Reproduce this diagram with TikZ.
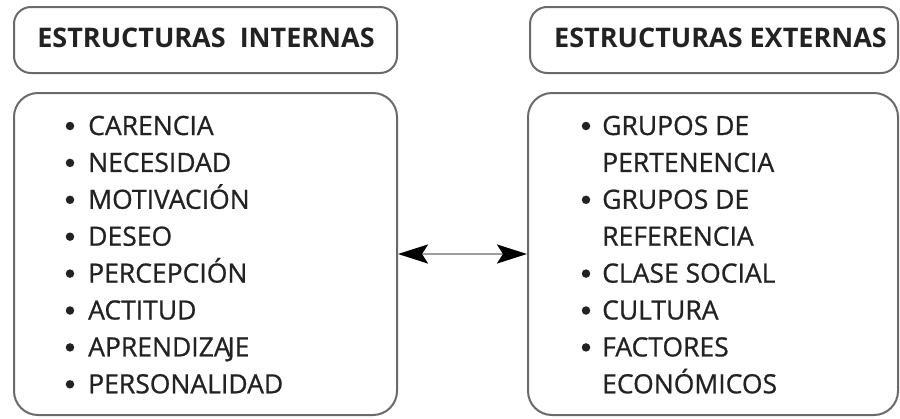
\documentclass[tikz,border=0pt]{standalone}
\usepackage{fontspec}
\setmainfont{Open Sans}
\usetikzlibrary{arrows.meta}
\definecolor{edge}{HTML}{6A6A6A}
\definecolor{ink}{HTML}{222222}
\tikzset{
  boxshape/.style={draw=edge, line width=2pt, rounded corners=24pt, inner sep=0pt},
  headshape/.style={draw=edge, line width=2pt, rounded corners=17pt, inner sep=0pt},
  headtext/.style={font=\fontsize{27}{30}\selectfont\bfseries, text=ink, inner sep=0pt, anchor=base},
  itemtext/.style={font=\fontsize{26.5}{28}\selectfont\addfontfeatures{FakeBold=0.8}, text=ink, inner sep=0pt, anchor=base west},
  dot/.style={circle, fill=ink, inner sep=0pt, minimum size=8.5pt},
  link/.style={draw=black!38, line width=2.5pt, {Stealth[length=30pt,width=19pt,inset=6pt,color=black]}-{Stealth[length=30pt,width=19pt,inset=6pt,color=black]}}
}
\begin{document}
\begin{tikzpicture}[x=1pt,y=-1pt]
\useasboundingbox (0,0) rectangle (900,418);
% headers
\node[headshape, minimum width=383pt, minimum height=66pt] (lhead) at (205.5,40) {};
\node[headshape, minimum width=368pt, minimum height=66pt] (rhead) at (714,40) {};
\node[headtext] (lheadt) at (206,47) {ESTRUCTURAS\ \ INTERNAS};
\node[headtext] (rheadt) at (720.5,47) {ESTRUCTURAS EXTERNAS};
% bodies
\node[boxshape, minimum width=383pt, minimum height=322pt] (lbody) at (205.5,254) {};
\node[boxshape, minimum width=370pt, minimum height=322pt] (rbody) at (713,254) {};
% left list
\foreach \t [count=\i from 0] in {CARENCIA,NECESIDAD,MOTIVACIÓN,DESEO,PERCEPCIÓN,ACTITUD,APRENDIZA\kern-3ptJE,PERSONALIDAD}{
  \node[itemtext] (li\i) at (88,{135+36.9*\i}) {\t};
  \node[dot] (lb\i) at (70,{126+36.9*\i}) {};
}
% right list
\foreach \t [count=\i from 0] in {GRUPOS DE,PERTENENCIA,GRUPOS DE,REFERENCIA,CLASE SOCIAL,CULTURA,FACTORES,ECONÓMICOS}{
  \node[itemtext] (ri\i) at (602,{135+36.9*\i}) {\t};
}
\foreach \i in {0,2,4,5,6}{
  \node[dot] (rb\i) at (586,{126+36.9*\i}) {};
}
% connector
\draw[link] (lbody.east) -- (rbody.west);
\end{tikzpicture}
\end{document}
